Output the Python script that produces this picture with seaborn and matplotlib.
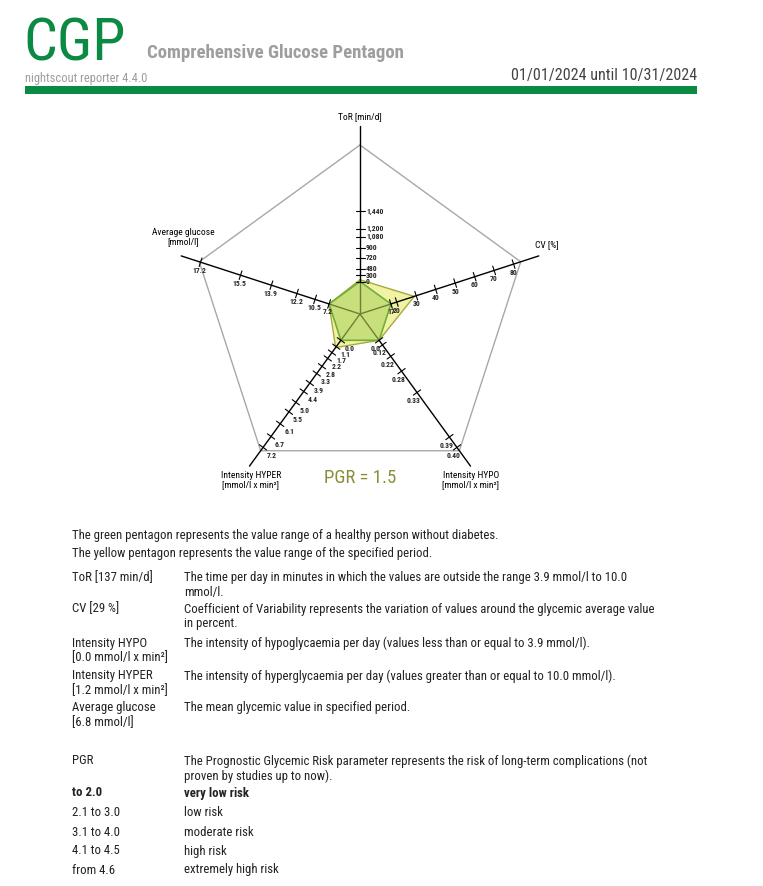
import numpy as np
import matplotlib
matplotlib.use("Agg")
import matplotlib.pyplot as plt
import seaborn as sns
from matplotlib import font_manager

axis_titles = ["ToR [min/d]", "CV [%]", "Intensity HYPO\n[mmol/l x min²]",
               "Intensity HYPER\n[mmol/l x min²]", "Average glucose\n[mmol/l]"]
tor_labels = ["0", "300", "480", "720", "900", "1,080", "1,200", "1,440"]
cv_labels = ["17", "20", "30", "40", "50", "60", "70", "80"]
hypo_labels = ["0.0", "0.12", "0.22", "0.28", "0.33", "0.39", "0.40"]
hyper_labels = ["0.0", "1.1", "1.7", "2.2", "2.8", "3.3", "3.9", "4.4", "5.0",
                "5.5", "6.1", "6.7", "7.2"]
glucose_labels = ["7.2", "10.5", "12.2", "13.9", "15.5", "17.2"]
healthy_values = [0, 17, 0.0, 0.0, 7.2]
period_values = [137, 29, 0.0, 1.2, 6.8]
pgr_value = 1.5
date_range = "01/01/2024 until 10/31/2024"
version = "nightscout reporter 4.4.0"
risk_ranges = ["to 2.0", "2.1 to 3.0", "3.1 to 4.0", "4.1 to 4.5", "from 4.6"]
risk_names = ["very low risk", "low risk", "moderate risk", "high risk", "extremely high risk"]

sns.set_theme(style="white")
names = {f.name for f in font_manager.fontManager.ttflist}
body_font = next((n for n in ["Roboto Condensed", "Liberation Sans Narrow", "Roboto"] if n in names),
                 "DejaVu Sans")
plt.rcParams["font.family"] = [body_font, "DejaVu Sans"]

GREEN = "#0b8a44"
GRAY = "#9e9e9e"
TEXT = "#222222"

fig = plt.figure(figsize=(7.63, 8.86), dpi=100)
ax = fig.add_axes([0, 0, 1, 1])
ax.set_xlim(0, 763)
ax.set_ylim(886, 0)
ax.axis("off")

# --- header ---
ax.text(23, 60, "CGP", color=GREEN, fontsize=43, va="baseline", ha="left")
ax.text(147, 58, "Comprehensive Glucose Pentagon", color=GRAY, fontsize=13.5,
        fontweight="bold", va="baseline")
ax.text(25, 82, version, color=GRAY, fontsize=9, va="baseline")
ax.text(697, 80, date_range, color="#444444", fontsize=11.6, va="baseline", ha="right")
ax.fill_between([25, 697], 86, 94, color=GREEN, lw=0)

# --- pentagon geometry ---
cx, cy = 360, 314
r_in, r_out, r_axis = 32.5, 169, 188
angles = np.deg2rad([90, 18, -54, -126, 162])


def to_xy(k, r):
    return cx + r * np.cos(angles[k]), cy - r * np.sin(angles[k])


# nonlinear axis scales, value -> fraction of the axis between inner and outer pentagon
scales = [
    lambda v: 0.516 * (v / 1440.0) ** 1.57,
    lambda v: (v - 17.0) * 0.015,
    lambda v: 0.97 * (np.exp(4.0 * v / 0.40) - 1) / (np.exp(4.0) - 1),
    lambda v: 0.97 * (v / 7.2) ** 1.5,
    lambda v: 0.99 * ((max(v, 7.2) - 7.2) / 10.0) ** 2,
]


def radius(k, v):
    return r_in + (r_out - r_in) * scales[k](v)


def polygon(values):
    pts = [to_xy(k, radius(k, v)) for k, v in enumerate(values)]
    pts.append(pts[0])
    return np.array(pts)


frame = np.array([to_xy(k, r_out) for k in range(5)] + [to_xy(0, r_out)])
sns.lineplot(x=frame[:, 0], y=frame[:, 1], sort=False, estimator=None,
             color="#a8a8a8", lw=1.0, ax=ax)

per = polygon(period_values)
hea = polygon(healthy_values)
ax.fill(per[:, 0], per[:, 1], color="#eff3a3", lw=0, zorder=2)
ax.fill(hea[:, 0], hea[:, 1], color="#c8e07c", lw=0, zorder=3)
ax.plot(per[:, 0], per[:, 1], color="#a8aa3c", lw=1.0, zorder=4)
ax.plot(hea[:, 0], hea[:, 1], color="#74ad3a", lw=1.2, zorder=5)

for k in range(5):
    x0, y0 = to_xy(k, 0)
    x1, y1 = to_xy(k, r_in)
    x2, y2 = to_xy(k, r_axis)
    ax.plot([x0, x1], [y0, y1], color="#6f7f34", lw=1.0, zorder=6)
    ax.plot([x1, x2], [y1, y2], color="black", lw=1.0, zorder=6)

# --- ticks and tick labels ---
tick_sets = [tor_labels, cv_labels, hypo_labels, hyper_labels, glucose_labels]
label_off = [(6, 0), (0, 8), (-3, 8), (9, 8), (-1, 8)]
half = 4.5
for k, labels in enumerate(tick_sets):
    px, py = -np.sin(angles[k]), -np.cos(angles[k])  # perpendicular in screen coords
    for lab in labels:
        v = float(lab.replace(",", ""))
        tx, ty = to_xy(k, radius(k, v))
        ax.plot([tx - half * px, tx + half * px], [ty - half * py, ty + half * py],
                color="black", lw=0.8, zorder=7)
        dx, dy = label_off[k]
        ax.text(tx + dx, ty + dy, lab, fontsize=5.5, fontweight="bold",
                ha="left" if k == 0 else "center", va="center", zorder=8)

# --- axis titles ---
title_pos = [(360, 117, "center"), (535, 245, "left"), (471, 480, "center"),
             (251, 480, "center"), (183, 237, "center")]
for (tx, ty, ha), t in zip(title_pos, axis_titles):
    ax.text(tx, ty, t, fontsize=6.8, ha=ha, va="center", multialignment="center",
            linespacing=1.1, color="black")

ax.text(360, 478, f"PGR = {pgr_value}", fontsize=13.5, color="#8c8c3a", ha="center", va="center")

# --- explanation text ---
fs = 9.2
c1, c2 = 72, 184
ax.text(c1, 535, "The green pentagon represents the value range of a healthy person without diabetes.",
        fontsize=fs, color=TEXT, va="center")
ax.text(c1, 553, "The yellow pentagon represents the value range of the specified period.",
        fontsize=fs, color=TEXT, va="center")

rows = [
    (578, f"ToR [{period_values[0]} min/d]",
     "The time per day in minutes in which the values are outside the range 3.9 mmol/l to 10.0\nmmol/l."),
    (609, f"CV [{period_values[1]} %]",
     "Coefficient of Variability represents the variation of values around the glycemic average value\nin percent."),
    (643, f"Intensity HYPO\n[{period_values[2]:.1f} mmol/l x min²]",
     "The intensity of hypoglycaemia per day (values less than or equal to 3.9 mmol/l)."),
    (676, f"Intensity HYPER\n[{period_values[3]:.1f} mmol/l x min²]",
     "The intensity of hyperglycaemia per day (values greater than or equal to 10.0 mmol/l)."),
    (708, f"Average glucose\n[{period_values[4]:.1f} mmol/l]",
     "The mean glycemic value in specified period."),
    (761, "PGR",
     "The Prognostic Glycemic Risk parameter represents the risk of long-term complications (not\nproven by studies up to now)."),
]
for y, left, right in rows:
    ax.text(c1, y - 6.5, left, fontsize=fs, color=TEXT, va="top", linespacing=1.18)
    ax.text(c2, y - 6.5, right, fontsize=fs, color=TEXT, va="top", linespacing=1.18)

risk_y = [793, 813, 832, 851, 870]
for i, (y, rng, name) in enumerate(zip(risk_y, risk_ranges, risk_names)):
    w = "bold" if i == 0 else "normal"
    ax.text(c1, y, rng, fontsize=fs, color=TEXT, va="center", fontweight=w)
    ax.text(c2, y, name, fontsize=fs, color=TEXT, va="center", fontweight=w)

fig.savefig("out.png", dpi=100)
